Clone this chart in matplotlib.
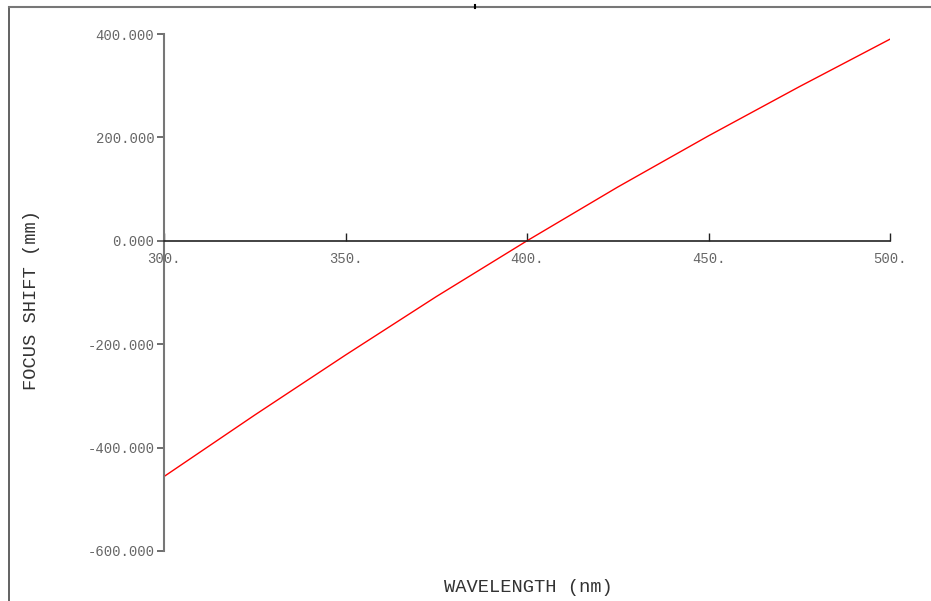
import matplotlib
matplotlib.use("Agg")
import matplotlib.pyplot as plt
from matplotlib.lines import Line2D

wavelength = [300, 325, 350, 375, 400, 425, 450, 475, 500]
focus_shift = [-456, -337, -221, -108, 0, 104, 203, 298, 390]
x_ticks = [300, 350, 400, 450, 500]
x_ticklabels = ["300.", "350.", "400.", "450.", "500."]
y_ticks = [-600, -400, -200, 0, 200, 400]
y_ticklabels = ["-600.000", "-400.000", "-200.000", "0.000", "200.000", "400.000"]

W, H = 931, 601
fig = plt.figure(figsize=(W / 100, H / 100), dpi=100)
fig.patch.set_facecolor("white")

ax = fig.add_axes([164 / W, 1 - 551 / H, (890 - 164) / W, (551 - 34) / H])
ax.set_facecolor("none")
ax.plot(wavelength, focus_shift, color="#ff0000", lw=1.0)
ax.set_xlim(300, 500)
ax.set_ylim(-600, 400)

for s in ["top", "right"]:
    ax.spines[s].set_visible(False)
ax.spines["bottom"].set_position(("data", 0))
ax.spines["bottom"].set_color("#222222")
ax.spines["bottom"].set_linewidth(1.2)
ax.spines["left"].set_color("#777777")
ax.spines["left"].set_linewidth(1.5)

mono = "Liberation Mono"
ax.set_xticks(x_ticks)
ax.set_xticklabels(x_ticklabels, fontfamily=mono, fontsize=10, color="#666666")
ax.set_yticks(y_ticks)
ax.set_yticklabels(y_ticklabels, fontfamily=mono, fontsize=10, color="#666666")
ax.tick_params(axis="x", direction="in", length=6, width=1, color="#222222", pad=8)
ax.tick_params(axis="y", direction="out", length=5, width=1.2, color="#555555", pad=2)

fig.text(528 / W, 1 - 588 / H, "WAVELENGTH (nm)", ha="center", va="center",
         fontfamily=mono, fontsize=13.5, color="#333333")
fig.text(32 / W, 1 - 300 / H, "FOCUS SHIFT (mm)", ha="center", va="center",
         rotation=90, fontfamily=mono, fontsize=13.5, color="#333333")

# outer frame lines
fig.add_artist(Line2D([9 / W, 9 / W], [0, 1 - 7 / H], transform=fig.transFigure,
                      color="#555555", lw=1.3))
fig.add_artist(Line2D([9 / W, 1], [1 - 7 / H, 1 - 7 / H], transform=fig.transFigure,
                      color="#777777", lw=1.5))
fig.add_artist(Line2D([475 / W, 475 / W], [1 - 5 / H, 1 - 8 / H], transform=fig.transFigure,
                      color="#000000", lw=1.5))

fig.savefig("out.png", dpi=100)
